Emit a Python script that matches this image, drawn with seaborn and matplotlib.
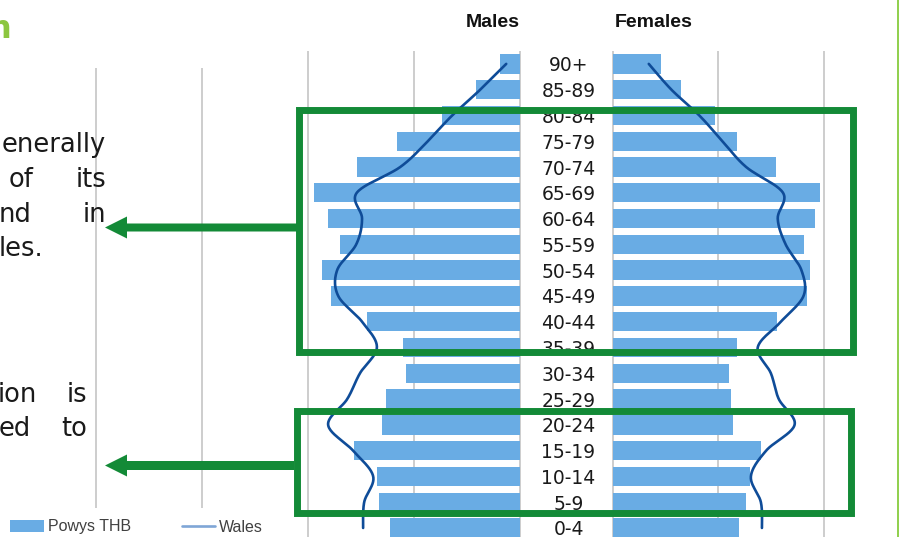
import numpy as np
import pandas as pd
import matplotlib
matplotlib.use("Agg")
import matplotlib.pyplot as plt
from matplotlib.patches import Polygon, Rectangle
import seaborn as sns

# Population share (% of total population) by five-year age band
age_groups = ["90+", "85-89", "80-84", "75-79", "70-74", "65-69", "60-64",
              "55-59", "50-54", "45-49", "40-44", "35-39", "30-34", "25-29",
              "20-24", "15-19", "10-14", "5-9", "0-4"]
powys_males = [0.38, 0.83, 1.47, 2.32, 3.08, 3.89, 3.62, 3.40, 3.74, 3.57,
               2.89, 2.21, 2.15, 2.53, 2.60, 3.13, 2.70, 2.66, 2.45]
powys_females = [0.91, 1.30, 1.94, 2.36, 3.09, 3.94, 3.83, 3.62, 3.75, 3.68,
                 3.11, 2.36, 2.21, 2.25, 2.28, 2.81, 2.60, 2.53, 2.40]
wales_males = [0.26, 0.75, 1.28, 1.74, 2.26, 3.08, 2.98, 3.09, 3.45, 3.43,
               2.98, 2.70, 3.02, 3.26, 3.62, 3.15, 2.77, 2.94, 2.96]
wales_females = [0.68, 1.11, 1.64, 2.08, 2.53, 3.23, 3.13, 3.28, 3.58, 3.62,
                 3.19, 2.75, 3.00, 3.15, 3.45, 2.91, 2.62, 2.81, 2.83]
grid_values = [0, 2, 4, 6, 8]

BAR = "#69ACE4"
LINE = "#0F4C98"
GREEN = "#138A37"
LIGHT_GREEN = "#92D050"
GRID = "#C9C9C9"
TEXT = "#1A1A1A"

sns.set_style("white")
plt.rcParams["font.family"] = ["DejaVu Sans"]

W, H = 899, 537
PX_PER_PCT = 53.0
fig = plt.figure(figsize=(W / 100, H / 100), dpi=100)


def fx(x):
    return x / W


def fy(y):
    return 1 - y / H


def smooth(xv, yv, scale_x, scale_y, n=24):
    """Smoothed line through the points (cubic Bezier / Catmull-Rom)."""
    p = np.column_stack([np.asarray(xv) * scale_x, np.asarray(yv) * scale_y])
    ext = np.vstack([p[0], p, p[-1]])
    out = []
    t = np.linspace(0, 1, n, endpoint=False)[:, None]
    for i in range(1, len(ext) - 2):
        p0, p1, p2, p3 = ext[i - 1], ext[i], ext[i + 1], ext[i + 2]
        c1 = p1 + (p2 - p0) / 6
        c2 = p2 - (p3 - p1) / 6
        seg = ((1 - t) ** 3) * p1 + 3 * ((1 - t) ** 2) * t * c1 \
            + 3 * (1 - t) * t ** 2 * c2 + t ** 3 * p2
        out.append(seg)
    out.append(p[-1][None, :])
    out = np.vstack(out)
    return out[:, 0] / scale_x, out[:, 1] / scale_y


df = pd.DataFrame({"age": age_groups, "males": powys_males,
                   "females": powys_females})
pos = np.arange(len(age_groups))
ylim = (18.35, -0.5)

ax_m = fig.add_axes([fx(0), 0, fx(522), fy(51)])
ax_f = fig.add_axes([fx(611), 0, fx(899) - fx(611), fy(51)])

sns.barplot(data=df, x="males", y="age", order=age_groups, orient="h",
            color=BAR, saturation=1, width=0.75, linewidth=0, ax=ax_m)
sns.barplot(data=df, x="females", y="age", order=age_groups, orient="h",
            color=BAR, saturation=1, width=0.75, linewidth=0, ax=ax_f)

xm, ym = smooth(wales_males, pos, PX_PER_PCT, 25.78)
wales_line, = ax_m.plot(xm, ym, color=LINE, lw=1.9, zorder=3)
xf, yf = smooth(wales_females, pos, PX_PER_PCT, 25.78)
ax_f.plot(xf, yf, color=LINE, lw=1.9, zorder=3)

for ax in (ax_m, ax_f):
    ax.set_xticks(grid_values)
    ax.tick_params(axis="x", length=0, labelbottom=False)
    ax.grid(axis="x", color=GRID, lw=1.3)
    ax.grid(axis="y", visible=False)
    ax.set_axisbelow(True)
    ax.set_xlabel("")
    ax.set_ylabel("")
    ax.patch.set_alpha(0)
    for s in ax.spines.values():
        s.set_visible(False)

ax_m.set_xlim(520 / PX_PER_PCT, -2 / PX_PER_PCT)
ax_f.set_xlim(-2 / PX_PER_PCT, 288 / PX_PER_PCT)

# Age-band labels centred in the gap between the two halves
ax_m.yaxis.tick_right()
ax_m.set_yticks(pos, labels=age_groups, ha="center", fontsize=13.5,
                color=TEXT)
ax_m.tick_params(axis="y", length=0, pad=33.5)
ax_f.tick_params(axis="y", left=False, right=False, labelleft=False,
                 labelright=False)
for ax in (ax_m, ax_f):
    ax.set_ylim(*ylim)

# White text-box backgrounds on the left of the slide
fig.add_artist(Rectangle((0, fy(68)), fx(285), 1 - fy(68),
                         transform=fig.transFigure, facecolor="white",
                         edgecolor="none", zorder=1))
fig.add_artist(Rectangle((0, 0), fx(290), 29 / H,
                         transform=fig.transFigure, facecolor="white",
                         edgecolor="none", zorder=1))

fig.text(fx(520), fy(26.7), "Males", ha="right", va="baseline",
         fontsize=14, fontweight="bold", family="Liberation Sans",
         color="#111111")
fig.text(fx(615), fy(26.7), "Females", ha="left", va="baseline",
         fontsize=14, fontweight="bold", family="Liberation Sans",
         color="#111111")

# Heading fragment and body text
fig.text(fx(11), fy(38), "n", ha="right", va="baseline", fontsize=23,
         fontweight="bold", color="#8CC63F", zorder=3)

body = dict(va="baseline", fontsize=18.5, color=TEXT, zorder=3)
fig.text(fx(106), fy(152), "enerally", ha="right", **body)
fig.text(fx(9), fy(187), "of", ha="left", **body)
fig.text(fx(106), fy(187), "its", ha="right", **body)
fig.text(fx(-1), fy(222), "nd", ha="left", **body)
fig.text(fx(106), fy(222), "in", ha="right", **body)
fig.text(fx(-1), fy(256), "les.", ha="left", **body)
fig.text(fx(-2), fy(402), "ion", ha="left", **body)
fig.text(fx(87), fy(402), "is", ha="right", **body)
fig.text(fx(-1), fy(436), "ed", ha="left", **body)
fig.text(fx(87), fy(436), "to", ha="right", **body)


def px_in(x, y):
    return (x / 100, (H - y) / 100)


# Highlight boxes
for (x0, y0, x1, y1) in [(299, 110.5, 853, 351.5), (297, 410.5, 851, 513)]:
    a, b = px_in(x0, y1)
    fig.add_artist(Rectangle((a, b), (x1 - x0) / 100, (y1 - y0) / 100,
                             transform=fig.dpi_scale_trans, fill=False,
                             edgecolor=GREEN, lw=5.0, joinstyle="miter",
                             zorder=4))

# Arrows pointing to the text
for (yc, x_end, half_shaft) in [(227.5, 297, 4.0), (465.5, 294, 4.5)]:
    tip, base = 105, 127
    pts = [(tip, yc), (base, yc - 11), (base, yc - half_shaft),
           (x_end, yc - half_shaft), (x_end, yc + half_shaft),
           (base, yc + half_shaft), (base, yc + 11)]
    fig.add_artist(Polygon([px_in(*p) for p in pts], closed=True,
                           transform=fig.dpi_scale_trans, facecolor=GREEN,
                           edgecolor="none", zorder=4))

# Slide edge accent
fig.add_artist(Rectangle((fx(897), 0), fx(2), 1, transform=fig.transFigure,
                         facecolor=LIGHT_GREEN, edgecolor="none", zorder=4))

bar_handle = ax_m.containers[0].patches[0]
leg = fig.legend([bar_handle, wales_line], ["Powys THB", "Wales"],
                 loc="center left", bbox_to_anchor=(fx(10), fy(527)),
                 ncol=2, frameon=False, borderpad=0, borderaxespad=0,
                 handlelength=2.1, handletextpad=0.25, columnspacing=3.2,
                 prop={"family": "Liberation Sans", "size": 11.5})
for t in leg.get_texts():
    t.set_color("#404040")
leg.legend_handles[1].set_color("#7FA6D6")
leg.set_zorder(5)

fig.savefig("out.png", dpi=100)
